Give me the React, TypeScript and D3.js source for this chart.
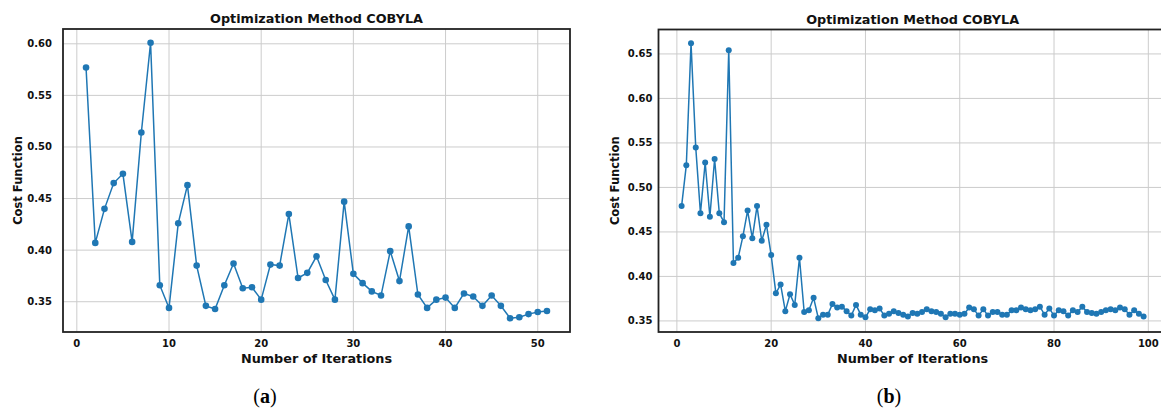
import React, { useEffect, useRef } from 'react';
import * as d3 from 'd3';

// cost per iteration, panel (a): 51 iterations
const costA = [
  0.577, 0.407, 0.440, 0.465, 0.474, 0.408, 0.514, 0.601, 0.366, 0.344,
  0.426, 0.463, 0.385, 0.346, 0.343, 0.366, 0.387, 0.363, 0.364, 0.352,
  0.386, 0.385, 0.435, 0.373, 0.378, 0.394, 0.371, 0.352, 0.447, 0.377,
  0.368, 0.360, 0.356, 0.399, 0.370, 0.423, 0.357, 0.344, 0.352, 0.354,
  0.344, 0.358, 0.355, 0.346, 0.356, 0.346, 0.334, 0.335, 0.338, 0.340,
  0.341,
];

// cost per iteration, panel (b): 99 iterations
const costB = [
  0.479, 0.525, 0.662, 0.545, 0.471, 0.528, 0.467, 0.532, 0.471, 0.461,
  0.654, 0.415, 0.421, 0.445, 0.474, 0.443, 0.479, 0.440, 0.458, 0.424,
  0.381, 0.391, 0.361, 0.380, 0.368, 0.421, 0.360, 0.362, 0.376, 0.353,
  0.357, 0.357, 0.369, 0.365, 0.366, 0.361, 0.356, 0.368, 0.357, 0.354,
  0.363, 0.362, 0.364, 0.356, 0.358, 0.361, 0.359, 0.357, 0.355, 0.359,
  0.358, 0.360, 0.363, 0.361, 0.360, 0.358, 0.354, 0.358, 0.358, 0.357,
  0.358, 0.365, 0.363, 0.356, 0.363, 0.356, 0.360, 0.360, 0.357, 0.357,
  0.362, 0.362, 0.365, 0.363, 0.362, 0.363, 0.366, 0.357, 0.364, 0.356,
  0.362, 0.361, 0.356, 0.362, 0.360, 0.366, 0.360, 0.359, 0.358, 0.360,
  0.362, 0.363, 0.362, 0.365, 0.363, 0.357, 0.362, 0.358, 0.355,
];

const xTicksA = [0, 10, 20, 30, 40, 50];
const yTicksA = [0.35, 0.40, 0.45, 0.50, 0.55, 0.60];
const xTicksB = [0, 20, 40, 60, 80, 100];
const yTicksB = [0.35, 0.40, 0.45, 0.50, 0.55, 0.60, 0.65];

const titleText = 'Optimization Method COBYLA';
const xLabelText = 'Number of Iterations';
const yLabelText = 'Cost Function';

const W = 1161;
const H = 409;
const color = '#1f77b4';
const font = '"DejaVu Sans", sans-serif';

// matplotlib style 5% padding around the data
function padded(ext) {
  const pad = (ext[1] - ext[0]) * 0.05;
  return [ext[0] - pad, ext[1] + pad];
}

function drawPanel(svg, o) {
  const pts = o.data.map((v, i) => [i + 1, v]);
  const x = d3.scaleLinear().domain(padded([1, o.data.length])).range([o.left, o.right]);
  const y = d3.scaleLinear().domain(padded(d3.extent(o.data))).range([o.bottom, o.top]);

  const g = svg.append('g');
  const clipId = 'clip' + o.id;
  svg.append('clipPath').attr('id', clipId)
    .append('rect')
    .attr('x', o.left).attr('y', o.top)
    .attr('width', o.right - o.left).attr('height', o.bottom - o.top);

  // grid
  g.selectAll('.vg').data(o.xTicks).enter().append('line')
    .attr('x1', d => x(d)).attr('x2', d => x(d))
    .attr('y1', o.top).attr('y2', o.bottom)
    .attr('stroke', '#cccccc').attr('stroke-width', 1);
  g.selectAll('.hg').data(o.yTicks).enter().append('line')
    .attr('x1', o.left).attr('x2', o.right)
    .attr('y1', d => y(d)).attr('y2', d => y(d))
    .attr('stroke', '#cccccc').attr('stroke-width', 1);

  // line + markers
  const line = d3.line().x(d => x(d[0])).y(d => y(d[1]));
  const marks = g.append('g').attr('clip-path', `url(#${clipId})`);
  marks.append('path').datum(pts)
    .attr('fill', 'none').attr('stroke', color).attr('stroke-width', 1.5)
    .attr('d', line);
  marks.selectAll('circle').data(pts).enter().append('circle')
    .attr('cx', d => x(d[0])).attr('cy', d => y(d[1]))
    .attr('r', o.r).attr('fill', color);

  // frame
  g.append('rect')
    .attr('x', o.left).attr('y', o.top)
    .attr('width', o.right - o.left).attr('height', o.bottom - o.top)
    .attr('fill', 'none').attr('stroke', '#222').attr('stroke-width', 1.8);

  // tick labels
  g.selectAll('.xt').data(o.xTicks).enter().append('text')
    .attr('x', d => x(d)).attr('y', o.bottom + 15)
    .attr('text-anchor', 'middle')
    .attr('font-family', font).attr('font-weight', 'bold').attr('font-size', 10)
    .attr('fill', '#111')
    .text(d => d3.format('d')(d));
  g.selectAll('.yt').data(o.yTicks).enter().append('text')
    .attr('x', o.left - o.yTickGap).attr('y', d => y(d))
    .attr('dy', '0.35em')
    .attr('text-anchor', 'end')
    .attr('font-family', font).attr('font-weight', 'bold').attr('font-size', 10)
    .attr('fill', '#111')
    .text(d => d3.format('.2f')(d));

  const cx = (o.left + o.right) / 2;
  g.append('text')
    .attr('x', cx).attr('y', o.top - 6)
    .attr('text-anchor', 'middle')
    .attr('font-family', font).attr('font-weight', 'bold').attr('font-size', 12.8)
    .attr('fill', '#111')
    .text(titleText);
  g.append('text')
    .attr('x', cx).attr('y', o.bottom + 31)
    .attr('text-anchor', 'middle')
    .attr('font-family', font).attr('font-weight', 'bold').attr('font-size', 12.8)
    .attr('fill', '#111')
    .text(xLabelText);
  g.append('text')
    .attr('transform', `translate(${o.yLabelX},${(o.top + o.bottom) / 2}) rotate(-90)`)
    .attr('dy', '0.35em')
    .attr('text-anchor', 'middle')
    .attr('font-family', font).attr('font-weight', 'bold').attr('font-size', 11.5)
    .attr('fill', '#111')
    .text(yLabelText);

  // sub caption
  const cap = svg.append('text')
    .attr('x', o.capX).attr('y', 403)
    .attr('text-anchor', 'middle')
    .attr('font-family', '"Liberation Serif", serif').attr('font-size', 20)
    .attr('fill', '#000');
  cap.append('tspan').text('(');
  cap.append('tspan').attr('font-weight', 'bold').text(o.caption);
  cap.append('tspan').text(')');
}

export default function App() {
  const svgRef = useRef(null);

  useEffect(() => {
    const svg = d3.select(svgRef.current);
    svg.selectAll('*').remove();

    drawPanel(svg, {
      id: 'a', data: costA, xTicks: xTicksA, yTicks: yTicksA,
      left: 63, right: 570, top: 29, bottom: 332,
      yTickGap: 11, yLabelX: 18, r: 3.3, capX: 265, caption: 'a',
    });
    drawPanel(svg, {
      id: 'b', data: costB, xTicks: xTicksB, yTicks: yTicksB,
      left: 658.5, right: 1166.7, top: 29.5, bottom: 332,
      yTickGap: 6, yLabelX: 615, r: 3.0, capX: 889, caption: 'b',
    });
  }, []);

  return (
    <div style={{ position: 'absolute', left: 0, top: 0 }}>
      <svg ref={svgRef} width={W} height={H} style={{ display: 'block', background: '#fff' }} />
    </div>
  );
}
